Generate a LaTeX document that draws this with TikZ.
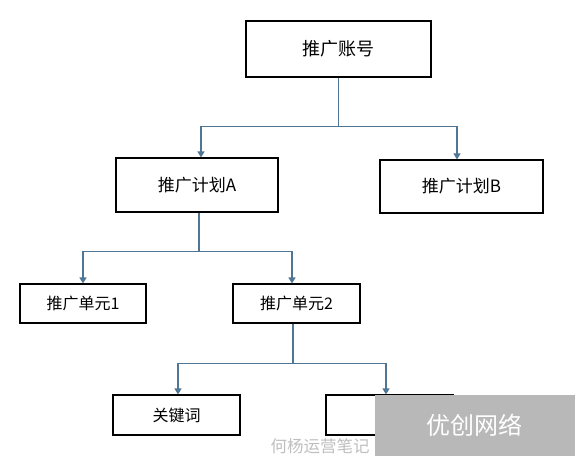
\documentclass[tikz,border=0pt]{standalone}
\usepackage{fontspec}
\newfontfamily\cjk{Noto Sans CJK SC}
\usetikzlibrary{arrows.meta}

\definecolor{linkblue}{RGB}{80,118,150}
\definecolor{markgray}{RGB}{184,184,184}

\tikzset{
  box/.style={draw=black, line width=1.1, fill=white, inner sep=0pt,
    font=\cjk\fontsize{16}{16}\selectfont},
  link/.style={draw=linkblue, line width=1.2},
  feed/.style={link, -{Triangle[width=7,length=6]}},
}

\begin{document}
\begin{tikzpicture}[x=1pt,y=-1pt]
  \useasboundingbox[fill=white] (0,0) rectangle (580,461);
  \node[box, minimum width=185, minimum height=56,
    font=\cjk\fontsize{18}{18}\selectfont] (acct) at (338.5,49) {推广账号};
  \node[box, minimum width=162, minimum height=54,
    font=\cjk\fontsize{17}{17}\selectfont] (planA) at (197,185) {推广计划A};
  \node[box, minimum width=163, minimum height=53,
    font=\cjk\fontsize{17}{17}\selectfont] (planB) at (461.5,186.5) {推广计划B};
  \node[box, minimum width=126, minimum height=39] (unit1) at (83,303.5) {推广单元1};
  \node[box, minimum width=127, minimum height=39] (unit2) at (296.5,303.5) {推广单元2};
  \node[box, minimum width=127, minimum height=40] (kw) at (176.5,415) {关键词};
  \node[box, minimum width=127, minimum height=40] (idea) at (389.5,415) {};

  \draw[link] (acct.south) -- ++(0,49) coordinate (bus1);
  \draw[feed] (bus1) -| ([xshift=4]planA.north);
  \draw[feed] (bus1) -| ([xshift=-4.5]planB.north);

  \draw[link] ([xshift=2]planA.south) -- ++(0,39) coordinate (bus2);
  \draw[feed] (bus2) -| (unit1.north);
  \draw[feed] (bus2) -| ([xshift=-4.5]unit2.north);

  \draw[link] ([xshift=-3.5]unit2.south) -- ++(0,40) coordinate (bus3);
  \draw[feed] (bus3) -| ([xshift=1.5]kw.north);
  \draw[feed] (bus3) -| ([xshift=-3.5]idea.north);

  % watermark
  \fill[markgray] (375,395) rectangle (575,456);
  \node[text=white, font=\cjk\fontsize{24}{24}\selectfont] (mark) at (474,425) {优创网络};
  \node[text=black!25, font=\cjk\fontsize{16.5}{16.5}\selectfont] (note) at (320,446) {何杨运营笔记};
\end{tikzpicture}
\end{document}
